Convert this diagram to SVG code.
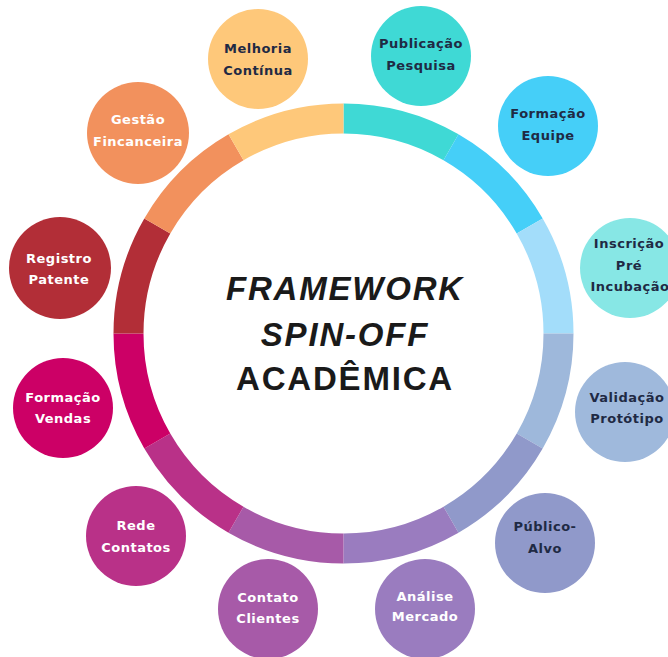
<svg xmlns="http://www.w3.org/2000/svg" width="668" height="657" viewBox="0 0 668 657">
  <style>
    .seg { fill: none; stroke-width: 30; stroke-linecap: butt; }
    .lbl { font-family: "DejaVu Sans", "Liberation Sans", sans-serif; font-weight: 700; font-size: 13px; letter-spacing: 0.5px; text-anchor: middle; }
    .dark { fill: #1f2a44; }
    .light { fill: #ffffff; }
    .title { font-family: "Liberation Sans", Arial, sans-serif; font-weight: 700; font-size: 33px; letter-spacing: 1.8px; text-anchor: middle; fill: #1a1a1a; }
  </style>
  <rect width="668" height="657" fill="#ffffff"/>

  <!-- ring of 12 segments, clockwise from the top -->
  <g id="connectors">
    <path class="seg" stroke="#3fd9d5" d="M343.5 118.5 A215 215 0 0 1 451 147.3"/>
    <path class="seg" stroke="#45cff8" d="M451 147.3 A215 215 0 0 1 529.7 226"/>
    <path class="seg" stroke="#a3ddfa" d="M529.7 226 A215 215 0 0 1 558.5 333.5"/>
    <path class="seg" stroke="#9eb8db" d="M558.5 333.5 A215 215 0 0 1 529.7 441"/>
    <path class="seg" stroke="#9099ca" d="M529.7 441 A215 215 0 0 1 451 519.7"/>
    <path class="seg" stroke="#9a7cbf" d="M451 519.7 A215 215 0 0 1 343.5 548.5"/>
    <path class="seg" stroke="#a75aa8" d="M343.5 548.5 A215 215 0 0 1 236 519.7"/>
    <path class="seg" stroke="#b93188" d="M236 519.7 A215 215 0 0 1 157.3 441"/>
    <path class="seg" stroke="#cc0066" d="M157.3 441 A215 215 0 0 1 128.5 333.5"/>
    <path class="seg" stroke="#b22e37" d="M128.5 333.5 A215 215 0 0 1 157.3 226"/>
    <path class="seg" stroke="#f2915d" d="M157.3 226 A215 215 0 0 1 236 147.3"/>
    <path class="seg" stroke="#fec87a" d="M236 147.3 A215 215 0 0 1 343.5 118.5"/>
  </g>

  <!-- central title -->
  <g id="title">
    <text class="title" x="345" y="300" font-style="italic">FRAMEWORK</text>
    <text class="title" x="345" y="346" font-style="italic">SPIN-OFF</text>
    <text class="title" x="345" y="390">ACADÊMICA</text>
  </g>

  <g id="melhoria">
    <circle cx="258" cy="59" r="50" fill="#fec87a"/>
    <text class="lbl dark" x="258" y="53">Melhoria</text>
    <text class="lbl dark" x="258" y="75">Contínua</text>
  </g>
  <g id="publicacao">
    <circle cx="421" cy="56" r="50" fill="#3fd9d5"/>
    <text class="lbl dark" x="421" y="48">Publicação</text>
    <text class="lbl dark" x="421" y="70">Pesquisa</text>
  </g>
  <g id="formacao-equipe">
    <circle cx="548" cy="126" r="50" fill="#45cff8"/>
    <text class="lbl dark" x="548" y="118">Formação</text>
    <text class="lbl dark" x="548" y="140">Equipe</text>
  </g>
  <g id="inscricao">
    <circle cx="630" cy="268" r="50" fill="#87e7e5"/>
    <text class="lbl dark" x="629" y="248">Inscrição</text>
    <text class="lbl dark" x="629" y="270">Pré</text>
    <text class="lbl dark" x="630" y="291">Incubação</text>
  </g>
  <g id="validacao">
    <circle cx="625" cy="412" r="50" fill="#9fb9dc"/>
    <text class="lbl dark" x="627" y="402">Validação</text>
    <text class="lbl dark" x="627" y="423">Protótipo</text>
  </g>
  <g id="publico-alvo">
    <circle cx="545" cy="543" r="50" fill="#9099ca"/>
    <text class="lbl dark" x="545" y="531">Público-</text>
    <text class="lbl dark" x="545" y="553">Alvo</text>
  </g>
  <g id="analise-mercado">
    <circle cx="425" cy="609" r="50" fill="#9a7cbf"/>
    <text class="lbl light" x="425" y="601">Análise</text>
    <text class="lbl light" x="425" y="621">Mercado</text>
  </g>
  <g id="contato-clientes">
    <circle cx="268" cy="609" r="50" fill="#a75aa8"/>
    <text class="lbl light" x="268" y="602">Contato</text>
    <text class="lbl light" x="268" y="623">Clientes</text>
  </g>
  <g id="rede-contatos">
    <circle cx="136" cy="536" r="50" fill="#b93188"/>
    <text class="lbl light" x="136" y="530">Rede</text>
    <text class="lbl light" x="136" y="552">Contatos</text>
  </g>
  <g id="formacao-vendas">
    <circle cx="63" cy="408" r="50" fill="#cc0066"/>
    <text class="lbl light" x="63" y="402">Formação</text>
    <text class="lbl light" x="63" y="423">Vendas</text>
  </g>
  <g id="registro-patente">
    <circle cx="60" cy="268" r="51" fill="#b22e37"/>
    <text class="lbl light" x="59" y="263">Registro</text>
    <text class="lbl light" x="59" y="284">Patente</text>
  </g>
  <g id="gestao">
    <circle cx="138" cy="133" r="51" fill="#f2915d"/>
    <text class="lbl light" x="138" y="124">Gestão</text>
    <text class="lbl light" x="138" y="146">Fincanceira</text>
  </g>
</svg>
